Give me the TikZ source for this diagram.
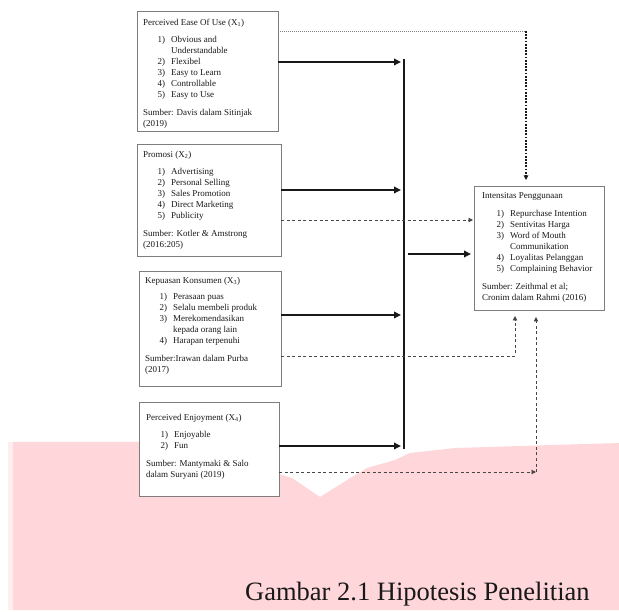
\documentclass[tikz,border=0pt]{standalone}
\usepackage{fontspec}
\setmainfont{Liberation Serif}
\usetikzlibrary{arrows.meta,calc}
\definecolor{pinkbg}{RGB}{255,214,218}
\definecolor{pinklight}{RGB}{255,238,240}
\definecolor{boxgray}{RGB}{125,125,125}
\definecolor{ink}{RGB}{25,25,25}
\definecolor{dashgray}{RGB}{70,70,70}
\newcommand{\itm}[2]{\makebox[22pt][r]{#1)}\hspace{6pt}#2}
\newcommand{\cnt}[1]{\hspace{28pt}#1}
\begin{document}
\begin{tikzpicture}[x=1pt,y=-1pt,
  box/.style={draw=boxgray,line width=0.8pt,fill=white,anchor=north west,inner sep=0pt,outer sep=0pt},
  txt/.style={anchor=north west,inner sep=0pt,align=left,text=ink,font=\fontsize{9}{11}\selectfont},
  solidarr/.style={line width=2pt,ink,-{Triangle[length=7pt,width=6.5pt]}},
  dasharr/.style={line width=0.9pt,dashgray,dash pattern=on 3pt off 2.5pt,-{Triangle[length=4.5pt,width=4.5pt]}},
  dotthin/.style={line width=0.6pt,gray,dash pattern=on 1pt off 1pt},
  dotthick/.style={line width=1.3pt,ink,dash pattern=on 1.8pt off 1.4pt,-{Triangle[length=4.5pt,width=4.5pt]}}
]
\useasboundingbox (0,0) rectangle (619,612);
% pink background artefact
\fill[pinklight] (8,442) rectangle (13,610);
\fill[pinkbg] (13,442) -- (279,442) -- (279,474) -- (292,478) -- (320,497) -- (352,477) -- (367,468)
  -- (395,460) -- (410,453) -- (455,448) -- (619,443) -- (619,610) -- (13,610) -- cycle;

% boxes
\node[box,minimum width=141pt,minimum height=120pt] (b1) at (137,11) {};
\node[box,minimum width=144pt,minimum height=112pt] (b2) at (137,144) {};
\node[box,minimum width=142pt,minimum height=115pt] (b3) at (139,271) {};
\node[box,minimum width=140pt,minimum height=94pt] (b4) at (139,402) {};
\node[box,minimum width=130pt,minimum height=124pt] (br) at (474,186) {};

% texts
\node[txt] (t1) at (143,19) {Perceived Ease Of Use (X\textsubscript{1})\\[6pt]
  \itm{1}{Obvious and}\\ \cnt{Understandable}\\ \itm{2}{Flexibel}\\ \itm{3}{Easy to Learn}\\
  \itm{4}{Controllable}\\ \itm{5}{Easy to Use}\\[7pt]
  Sumber: Davis dalam Sitinjak\\ (2019)};
\node[txt] (t2) at (143,151) {Promosi (X\textsubscript{2})\\[6pt]
  \itm{1}{Advertising}\\ \itm{2}{Personal Selling}\\ \itm{3}{Sales Promotion}\\
  \itm{4}{Direct Marketing}\\ \itm{5}{Publicity}\\[7.5pt]
  Sumber: Kotler \& Amstrong\\ (2016:205)};
\node[txt] (t3) at (145,277) {Kepuasan Konsumen (X\textsubscript{3})\\[5pt]
  \itm{1}{Perasaan puas}\\ \itm{2}{Selalu membeli produk}\\ \itm{3}{Merekomendasikan}\\
  \cnt{kepada orang lain}\\ \itm{4}{Harapan terpenuhi}\\[7pt]
  Sumber:Irawan dalam Purba\\ (2017)};
\node[txt] (t4) at (146,414) {Perceived Enjoyment (X\textsubscript{4})\\[6pt]
  \itm{1}{Enjoyable}\\ \itm{2}{Fun}\\[7.5pt]
  Sumber: Mantymaki \& Salo\\ dalam Suryani (2019)};
\node[txt] (tr) at (482,192) {Intensitas Penggunaan\\[7pt]
  \itm{1}{Repurchase Intention}\\ \itm{2}{Sentivitas Harga}\\ \itm{3}{Word of Mouth}\\
  \cnt{Communikation}\\ \itm{4}{Loyalitas Pelanggan}\\ \itm{5}{Complaining Behavior}\\[7.5pt]
  Sumber: Zeithmal et al;\\ Cronim dalam Rahmi (2016)};

% caption
\node[anchor=base west,inner sep=0pt,text=ink,font=\fontsize{26.5}{30}\selectfont] (cap) at (245,600) {Gambar 2.1 Hipotesis Penelitian};

% solid connectors
\coordinate (j1) at (401,62);
\coordinate (j2) at (401,190);
\coordinate (j3) at (401,315);
\coordinate (j4) at (401,446);
\coordinate (bartop) at (404,59);
\coordinate (barbot) at (404,449);
\coordinate (jo) at (408,254);
\draw[line width=2.4pt,ink] (bartop) -- (barbot);
\draw[solidarr] (b1.east |- j1) -- (j1);
\draw[solidarr] (b2.east |- j2) -- (j2);
\draw[solidarr] (b3.east |- j3) -- (j3);
\draw[solidarr] (b4.east |- j4) -- (j4);
\draw[solidarr,shorten >=3pt] (jo) -- (br.west |- jo);

% dotted connector from box 1
\coordinate (c1) at (526,31);
\draw[dotthin] (b1.east |- c1) -- (c1);
\draw[dotthick,shorten >=6pt] (c1) -- (c1 |- br.north);

% dashed connectors
\coordinate (d2) at (0,220);
\draw[dasharr,shorten >=1pt] (b2.east |- d2) -- (br.west |- d2);
\coordinate (c3) at (515,356);
\draw[dasharr,shorten >=6pt] (b3.east |- c3) -- (c3) -- (c3 |- br.south);
\coordinate (c4) at (536,472);
\draw[dasharr] (b4.east |- c4) -- (c4);
\draw[dasharr,shorten >=7pt] (c4) -- (c4 |- br.south);
\end{tikzpicture}
\end{document}
